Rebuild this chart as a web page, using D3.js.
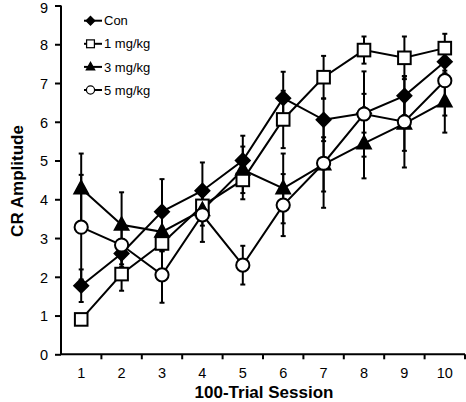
<!DOCTYPE html>
<html><head><meta charset="utf-8">
<script src="https://cdn.jsdelivr.net/npm/d3@7"></script>
<style>body{margin:0;background:#fff}svg{display:block}text{font-family:"Liberation Sans",Arial,sans-serif}</style>
</head><body><svg id="c" width="466" height="402"></svg>
<script>
const sessions = ["1","2","3","4","5","6","7","8","9","10"];
const yTicks = [0,1,2,3,4,5,6,7,8,9];
const seriesNames = ["Con","1 mg/kg","3 mg/kg","5 mg/kg"];
const conVals  = [1.77,2.60,3.68,4.22,5.00,6.61,6.05,6.22,6.67,7.55];
const conErr   = [0.42,0.35,0.84,0.73,0.64,0.68,0.55,0.50,0.50,0.30];
const mg1Vals  = [0.90,2.07,2.86,3.83,4.50,6.06,7.15,7.85,7.65,7.90];
const mg1Err   = [0.10,0.43,0.20,0.30,0.50,0.74,0.55,0.35,0.55,0.37];
const mg3Vals  = [4.28,3.34,3.16,3.72,4.76,4.28,4.90,5.44,5.95,6.52];
const mg3Err   = [0.90,0.84,0.50,0.40,0.60,0.90,0.70,0.90,0.70,0.80];
const mg5Vals  = [3.28,2.82,2.05,3.60,2.30,3.85,4.93,6.20,6.00,7.06];
const mg5Err   = [1.35,0.50,0.72,0.70,0.50,0.80,1.15,1.10,1.18,0.90];

const series = [
  {name:seriesNames[0], vals:conVals, err:conErr, shape:"diamond", fill:"#000"},
  {name:seriesNames[1], vals:mg1Vals, err:mg1Err, shape:"square", fill:"#fff"},
  {name:seriesNames[2], vals:mg3Vals, err:mg3Err, shape:"triangle", fill:"#000"},
  {name:seriesNames[3], vals:mg5Vals, err:mg5Err, shape:"circle", fill:"#fff"}
];

const svg = d3.select("#c");
const L=61, R=465, T=5.5, B=354.3;
const x = d3.scaleBand().domain(sessions).range([L,R]).padding(0);
const y = d3.scaleLinear().domain([0,9]).range([B,T]);
const cx = s => x(s)+x.bandwidth()/2;

function marker(g, shape, fill){
  if(shape==="diamond") g.append("path").attr("d","M0,-7L7,0L0,7L-7,0Z");
  else if(shape==="square") g.append("rect").attr("x",-6.3).attr("y",-6.3).attr("width",12.6).attr("height",12.6);
  else if(shape==="triangle") g.append("path").attr("d","M0,-7.5L6.8,5L-6.8,5Z");
  else g.append("circle").attr("r",6.6);
  g.selectAll("*").attr("fill",fill).attr("stroke","#000").attr("stroke-width",2);
}

// axes
const ya = svg.append("g").attr("transform",`translate(${L},0)`)
  .call(d3.axisLeft(y).tickValues(yTicks).tickSize(6).tickPadding(7).tickFormat(d3.format("d")));
const xa = svg.append("g").attr("transform",`translate(0,${B})`)
  .call(d3.axisBottom(x).tickSize(0).tickPadding(13));
svg.append("g").selectAll("line").data(sessions.slice(1).concat(["end"])).join("line")
  .attr("x1",d=>d==="end"?R:x(d)).attr("x2",d=>d==="end"?R:x(d))
  .attr("y1",B).attr("y2",B+5).attr("stroke","#000").attr("stroke-width",2);
[ya,xa].forEach(a=>{
  a.select(".domain").attr("stroke","#000").attr("stroke-width",2);
  a.selectAll(".tick line").attr("stroke","#000").attr("stroke-width",2);
  a.selectAll("text").attr("font-size",14.5).attr("fill","#000").attr("font-family","Liberation Sans, Arial, sans-serif");
});
ya.selectAll("text").attr("dy","0.36em");
ya.selectAll(".tick").filter(d=>d===9).select("text").attr("dy","0.46em");
ya.select(".domain").attr("d",`M-0,${B}V${T}`);
xa.select(".domain").attr("d",`M${L},0H${R}`);

// error bars
series.forEach(s=>{
  const g = svg.append("g");
  sessions.forEach((d,i)=>{
    const v=s.vals[i], e=s.err[i];
    g.append("line").attr("x1",cx(d)).attr("x2",cx(d)).attr("y1",y(v-e)).attr("y2",y(v+e))
      .attr("stroke","#000").attr("stroke-width",2);
    [v-e,v+e].forEach(t=>g.append("line").attr("x1",cx(d)-2.5).attr("x2",cx(d)+2.5)
      .attr("y1",y(t)).attr("y2",y(t)).attr("stroke","#000").attr("stroke-width",2));
  });
});
series.forEach(s=>{
  svg.append("path").datum(s.vals).attr("fill","none").attr("stroke","#000").attr("stroke-width",2)
    .attr("d", d3.line().x((v,i)=>cx(sessions[i])).y(v=>y(v)));
});
series.forEach(s=>{
  sessions.forEach((d,i)=>{
    const g = svg.append("g").attr("transform",`translate(${cx(d)},${y(s.vals[i])})`);
    marker(g, s.shape, s.fill);
  });
});

// legend
const lg = svg.append("g");
series.forEach((s,i)=>{
  const yy = 20.7 + i*23.1;
  lg.append("line").attr("x1",84).attr("x2",102).attr("y1",yy).attr("y2",yy).attr("stroke","#000").attr("stroke-width",2);
  const g = lg.append("g").attr("transform",`translate(90.5,${yy}) scale(0.62)`);
  marker(g, s.shape, s.fill);
  lg.append("text").attr("x",104).attr("y",yy+4.6).attr("font-size",13).text(s.name);
});

// titles
svg.append("text").attr("x",264).attr("y",398).attr("text-anchor","middle")
  .attr("font-size",17).attr("font-weight","bold").text("100-Trial Session");
svg.append("text").attr("transform","translate(23,181) rotate(-90)").attr("text-anchor","middle")
  .attr("font-size",17).attr("font-weight","bold").text("CR Amplitude");
</script></body></html>
